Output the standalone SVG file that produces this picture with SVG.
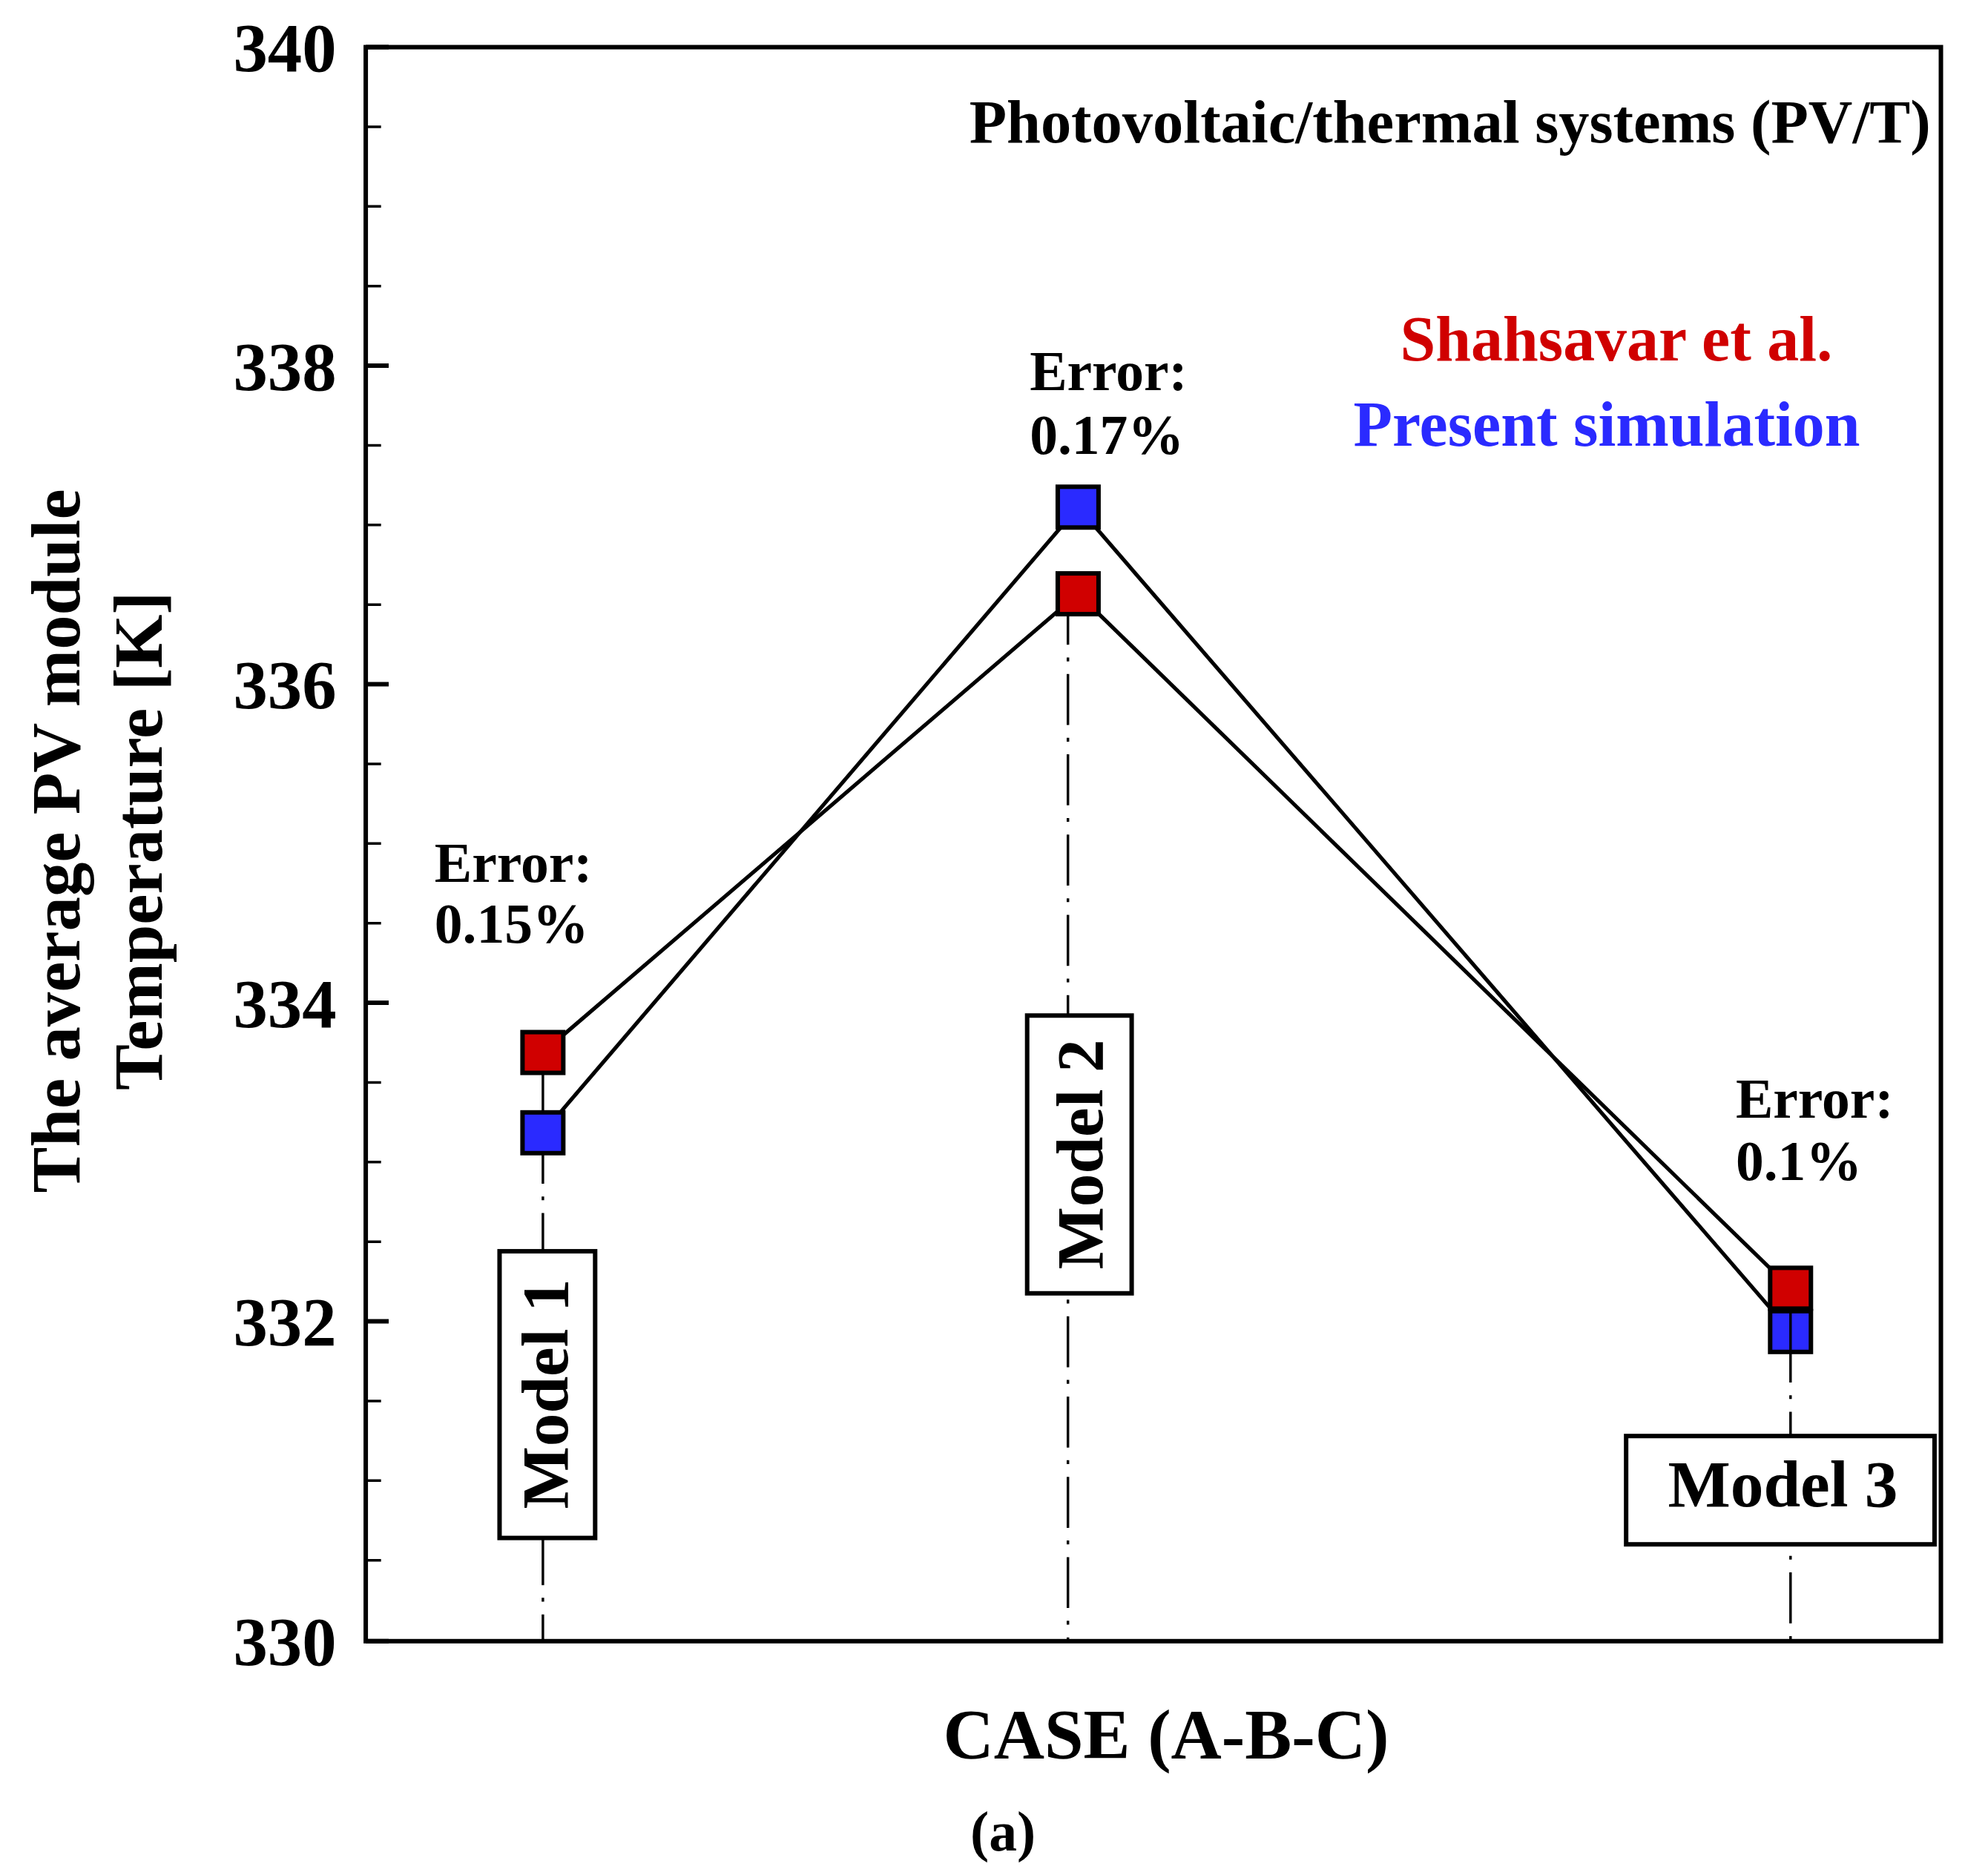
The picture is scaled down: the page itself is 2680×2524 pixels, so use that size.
<svg xmlns="http://www.w3.org/2000/svg" width="2680" height="2524" viewBox="0 0 2680 2524">
<style>
text{font-family:"Liberation Serif","Times New Roman",serif;font-weight:bold;fill:#000}
.tick{font-size:54px;text-anchor:end}
.err{font-size:44px}
.dash{stroke:#000;stroke-width:2;fill:none;stroke-dasharray:40 10 3 10}
.box{fill:#fff;stroke:#000;stroke-width:3.5}
.ser{fill:none;stroke:#000;stroke-width:3}
.red{fill:#d00000;stroke:#000;stroke-width:3.5}
.blue{fill:#2a2aff;stroke:#000;stroke-width:3.5}
</style>
<rect width="2680" height="2524" fill="#fff"/>
<g transform="scale(1.718)">
<g id="axes">
<rect x="287" y="37" width="1236" height="1251" fill="none" stroke="#000" stroke-width="3.5"/>
<path d="M287 37h18M287 287h18M287 537h18M287 787h18M287 1037h18M287 1288h18" stroke="#000" stroke-width="3.5"/>
<path d="M287 99.5h12M287 162h12M287 224.5h12M287 349.5h12M287 412h12M287 474.5h12M287 599.5h12M287 662h12M287 724.5h12M287 849.5h12M287 912h12M287 974.5h12M287 1099.5h12M287 1162h12M287 1224.5h12" stroke="#000" stroke-width="2"/>
<text class="tick" x="264" y="56">340</text>
<text class="tick" x="264" y="306">338</text>
<text class="tick" x="264" y="556">336</text>
<text class="tick" x="264" y="806">334</text>
<text class="tick" x="264" y="1056">332</text>
<text class="tick" x="264" y="1307">330</text>
<text transform="translate(62 660) rotate(-90)" text-anchor="middle" font-size="54">The average PV module</text>
<text transform="translate(127 660) rotate(-90)" text-anchor="middle" font-size="54">Temperature [K]</text>
<text x="915" y="1380" text-anchor="middle" font-size="55">CASE (A-B-C)</text>
<text x="787" y="1452" text-anchor="middle" font-size="44" font-weight="normal">(a)</text>
<text x="1515" y="112" text-anchor="end" font-size="48">Photovoltaic/thermal systems (PV/T)</text>
<text x="1438" y="283" text-anchor="end" font-size="50" style="fill:#d00000">Shahsavar et al.</text>
<text x="1062" y="350" font-size="50" style="fill:#2a2aff">Present simulation</text>
</g>
<g id="connectors">
<path class="dash" d="M426 889V1288M838 466V1288M1405 1045V1288"/>
<path class="ser" d="M426 826L846 466L1405 1011"/>
<path class="ser" d="M426 889L846 398L1405 1045"/>
<path d="M426 826V889" stroke="#000" stroke-width="2"/>
</g>
<g id="model1"><rect class="box" x="392" y="982" width="75" height="225"/><text transform="translate(445 1094) rotate(-90)" text-anchor="middle" font-size="52">Model 1</text></g>
<g id="model2"><rect class="box" x="806" y="797" width="82" height="218"/><text transform="translate(865 906) rotate(-90)" text-anchor="middle" font-size="52">Model 2</text></g>
<g id="model3"><rect class="box" x="1276" y="1127" width="242" height="85"/><text x="1399" y="1182" text-anchor="middle" font-size="52">Model 3</text></g>
<g id="err1"><text class="err" x="341" y="692">Error:</text><text class="err" x="341" y="740">0.15%</text></g>
<g id="err2"><text class="err" x="808" y="306">Error:</text><text class="err" x="808" y="356">0.17%</text></g>
<g id="err3"><text class="err" x="1362" y="877">Error:</text><text class="err" x="1362" y="926">0.1%</text></g>
<g id="points">
<rect class="red" x="410" y="810" width="32" height="32"/>
<rect class="blue" x="410" y="873" width="32" height="32"/>
<rect class="blue" x="830" y="382" width="32" height="32"/>
<rect class="red" x="830" y="450" width="32" height="32"/>
<rect class="red" x="1389" y="995" width="32" height="32"/>
<rect class="blue" x="1389" y="1029" width="32" height="32"/>
<path d="M1405 1029V1061" stroke="#000" stroke-width="2"/>
</g>
</g>
</svg>
